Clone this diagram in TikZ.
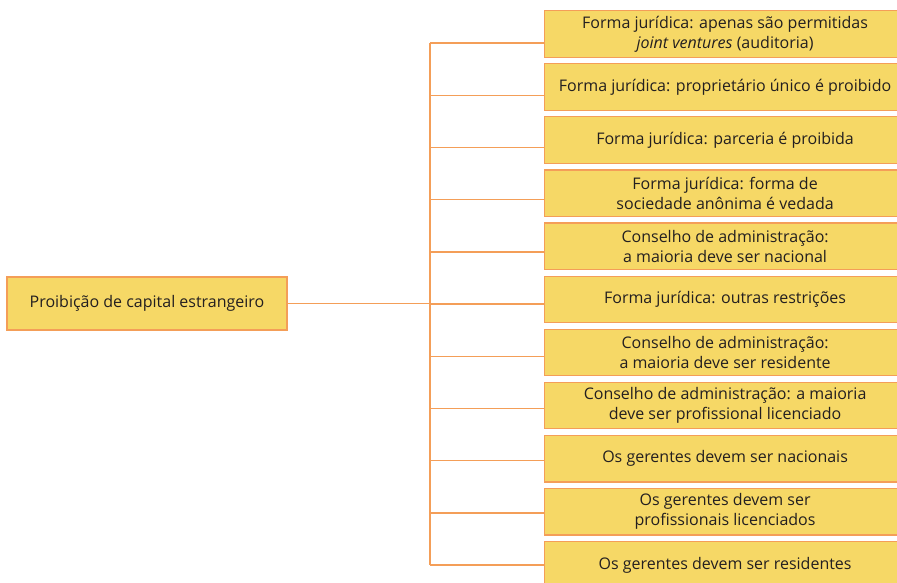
\documentclass[tikz,border=0pt]{standalone}
\usepackage{fontspec}
\setmainfont{Open Sans}
\definecolor{boxfill}{RGB}{246,216,102}
\definecolor{boxline}{RGB}{244,158,88}
\definecolor{txt}{RGB}{35,31,32}
\begin{document}
\begin{tikzpicture}[x=1pt,y=-1pt,
  box/.style={draw=boxline,line width=1.2pt,fill=boxfill,text=txt,align=center,
    font=\fontsize{16}{20}\selectfont,inner sep=0pt},
  leaf/.style={box,minimum width=361,minimum height=46.5,anchor=north west},
  conn/.style={draw=boxline,line width=1.4pt}]
\useasboundingbox (0,0) rectangle (897,582);
\node[box,minimum width=280,minimum height=53] (root) at (147,303.5) {Proibição de capital estrangeiro};
\node[leaf] (b1) at (544,10) {Forma jurídica: apenas são permitidas\\\textit{joint ventures} (auditoria)};
\node[leaf] (b2) at (544,63.1) {Forma jurídica: proprietário único é proibido};
\node[leaf] (b3) at (544,116.2) {Forma jurídica: parceria é proibida};
\node[leaf] (b4) at (544,169.3) {Forma jurídica: forma de\\sociedade anônima é vedada};
\node[leaf] (b5) at (544,222.4) {Conselho de administração:\\a maioria deve ser nacional};
\node[leaf] (b6) at (544,275.5) {Forma jurídica: outras restrições};
\node[leaf] (b7) at (544,328.6) {Conselho de administração:\\a maioria deve ser residente};
\node[leaf] (b8) at (544,381.7) {Conselho de administração: a maioria\\deve ser profissional licenciado};
\node[leaf] (b9) at (544,434.8) {Os gerentes devem ser nacionais};
\node[leaf] (b10) at (544,487.9) {Os gerentes devem ser\\profissionais licenciados};
\node[leaf] (b11) at (544,541) {Os gerentes devem ser residentes};
\coordinate (t1) at (430,43);
\coordinate (t11) at (430,565);
\foreach \i in {1,...,11}{
  \coordinate (t\i) at (430,{43+52.2*(\i-1)});
  \draw[conn] (t\i) -- (b\i.west |- t\i);
}
\draw[conn] (t1) -- (t11);
\draw[conn] (root.east) -- (root.east -| t1);
\end{tikzpicture}
\end{document}
